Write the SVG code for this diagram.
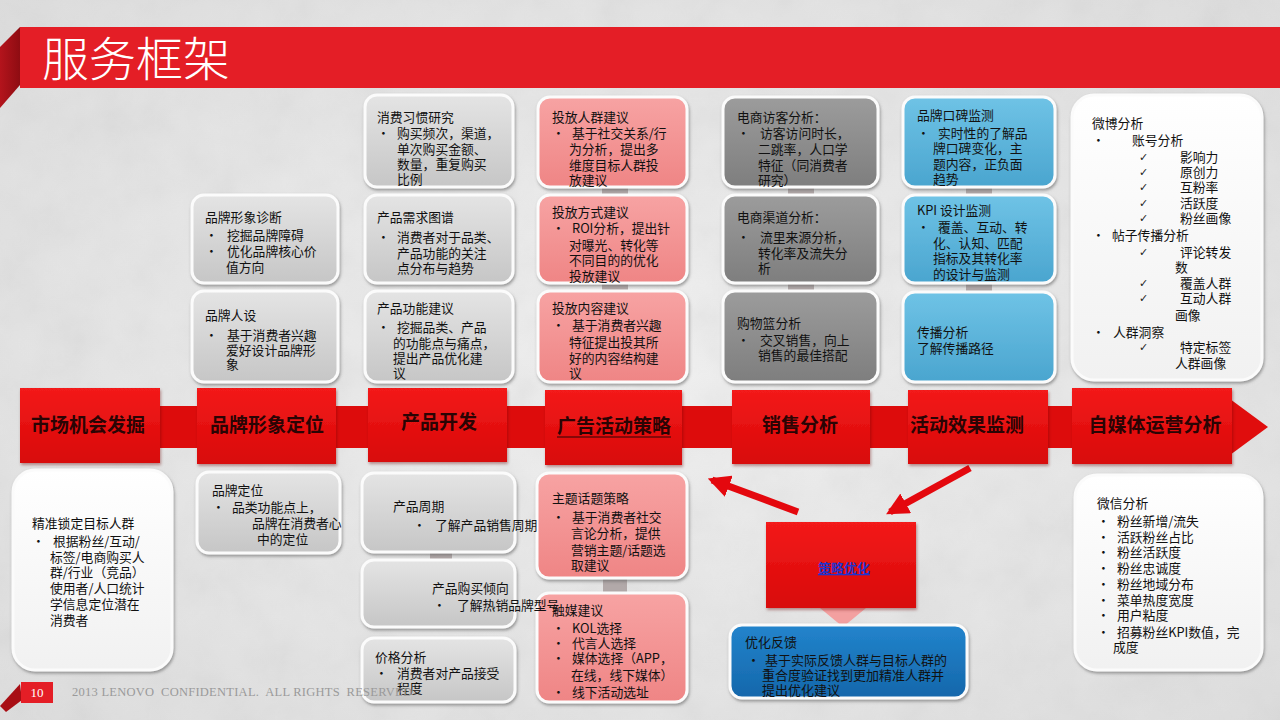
<svg xmlns="http://www.w3.org/2000/svg" width="1280" height="720" viewBox="0 0 1280 720">
<defs>
<style>
.t{font-family:"Noto Sans CJK SC","Noto Sans",sans-serif;font-size:12.8px;fill:#111}
.ck{font-family:"DejaVu Sans",sans-serif;font-size:11px;fill:#222}
.f{font-family:"Noto Sans CJK SC",sans-serif;font-weight:700;font-size:19px;fill:#2a0404;text-anchor:middle}
.box{stroke:#fbfbfb;stroke-width:3;filter:url(#sh)}
.g{fill:url(#gGray)}
.p{fill:url(#gPink)}
.d{fill:url(#gDark)}
.b{fill:url(#gBlue)}
.w{fill:url(#gWhite)}
.n{fill:url(#gNavy)}
.flow{fill:url(#gRed);filter:url(#sh2)}
.stub{fill:#a59a9a;opacity:.8}
</style>
<linearGradient id="gGray" x1="0" y1="0" x2="0" y2="1"><stop offset="0" stop-color="#e4e4e4"/><stop offset="1" stop-color="#c6c6c6"/></linearGradient>
<linearGradient id="gPink" x1="0" y1="0" x2="0" y2="1"><stop offset="0" stop-color="#f7a3a3"/><stop offset="1" stop-color="#ef8585"/></linearGradient>
<linearGradient id="gDark" x1="0" y1="0" x2="0" y2="1"><stop offset="0" stop-color="#9c9c9c"/><stop offset="1" stop-color="#7e7e7e"/></linearGradient>
<linearGradient id="gBlue" x1="0" y1="0" x2="0" y2="1"><stop offset="0" stop-color="#6fc3e6"/><stop offset="1" stop-color="#4aa5cf"/></linearGradient>
<linearGradient id="gWhite" x1="0" y1="0" x2="0" y2="1"><stop offset="0" stop-color="#ffffff"/><stop offset="1" stop-color="#f1f1f1"/></linearGradient>
<linearGradient id="gNavy" x1="0" y1="0" x2="0" y2="1"><stop offset="0" stop-color="#2284cc"/><stop offset="1" stop-color="#1567ab"/></linearGradient>
<linearGradient id="gRed" x1="0" y1="0" x2="0" y2="1"><stop offset="0" stop-color="#f31a1a"/><stop offset="1" stop-color="#d80808"/></linearGradient>
<linearGradient id="gFold" x1="0" y1="0" x2="1" y2="0"><stop offset="0" stop-color="#b4141c"/><stop offset="1" stop-color="#8e0c12"/></linearGradient>
<radialGradient id="bg" cx="0.5" cy="0.5" r="0.75"><stop offset="0" stop-color="#f0f0f0"/><stop offset="1" stop-color="#dcdcdc"/></radialGradient>
<filter id="sh" x="-10%" y="-10%" width="125%" height="125%"><feDropShadow dx="1" dy="2" stdDeviation="1.6" flood-color="#555" flood-opacity="0.55"/></filter>
<filter id="sh2" x="-10%" y="-10%" width="125%" height="125%"><feDropShadow dx="1" dy="2" stdDeviation="1.5" flood-color="#600" flood-opacity="0.4"/></filter>
<filter id="noise"><feTurbulence type="fractalNoise" baseFrequency="0.02" numOctaves="4" seed="7"/><feColorMatrix type="saturate" values="0"/></filter>
<marker id="ah" viewBox="0 0 10 10" refX="8" refY="5" markerWidth="3.2" markerHeight="3.2" orient="auto"><path d="M0,0 L10,5 L0,10 z" fill="#e4080e"/></marker>
</defs>

<rect width="1280" height="720" fill="url(#bg)"/>
<rect width="1280" height="720" filter="url(#noise)" opacity="0.12"/>

<g id="title">
<polygon points="0,47 20,27 20,85 0,108" fill="url(#gFold)"/>
<rect x="20" y="27" width="1260" height="61" fill="#e41e26"/>
<text x="42" y="76" style="font-family:'Noto Sans CJK SC',sans-serif;font-size:47px;font-weight:300;fill:#fff">服务框架</text>
</g>

<g id="page-number">
<polygon points="0,706 20,684 22,700 6,712" fill="#a80e14"/>
<rect x="21" y="682" width="32" height="21" fill="#e41e26"/>
<text x="37" y="697" text-anchor="middle" style="font-family:'Liberation Serif',serif;font-size:13px;fill:#fff">10</text>
</g>

<g id="connectors">
<rect x="158" y="406" width="1076" height="42" fill="#dd0c0c"/>
<polygon points="1230,399 1268,427 1230,455" fill="#e00d0d"/>
<line x1="798" y1="512" x2="712" y2="480" stroke="#e4080e" stroke-width="7" marker-end="url(#ah)"/>
<line x1="970" y1="468" x2="890" y2="512" stroke="#e4080e" stroke-width="7" marker-end="url(#ah)"/>
<polygon points="820,608 866,608 843,627" fill="#f3a0a0"/>
<rect class="stub" x="602" y="186" width="26" height="10"/>
<rect class="stub" x="602" y="282" width="26" height="10"/>
<rect class="stub" x="788" y="186" width="26" height="10"/>
<rect class="stub" x="788" y="282" width="26" height="10"/>
<rect class="stub" x="966" y="186" width="26" height="10"/>
<rect class="stub" x="966" y="282" width="26" height="10"/>
<rect class="stub" x="603" y="577" width="24" height="16"/>
<rect class="stub" x="430" y="551" width="22" height="10"/>
</g>

<g id="flow-market"><rect class="flow" x="20" y="388" width="140" height="75"/><text class="f" x="88" y="432">市场机会发掘</text></g>
<g id="flow-brand"><rect class="flow" x="197" y="388" width="139" height="76"/><text class="f" x="267" y="432">品牌形象定位</text></g>
<g id="flow-product"><rect class="flow" x="368" y="388" width="139" height="74"/><text class="f" x="439" y="429">产品开发</text></g>
<g id="flow-ad"><rect class="flow" x="545" y="390" width="137" height="75"/><text class="f" x="614" y="433">广告活动策略</text><line x1="557" y1="437" x2="671" y2="437" stroke="#2a0404" stroke-width="1"/></g>
<g id="flow-sales"><rect class="flow" x="732" y="390" width="138" height="74"/><text class="f" x="800" y="432">销售分析</text></g>
<g id="flow-monitor"><rect class="flow" x="908" y="390" width="140" height="74"/><text class="f" x="967" y="432">活动效果监测</text></g>
<g id="flow-media"><rect class="flow" x="1072" y="388" width="160" height="76"/><text class="f" x="1155" y="432">自媒体运营分析</text></g>

<g id="n-brand-diag"><rect class="box g" x="192" y="195" width="146" height="88" rx="12"/>
<text class="t"><tspan x="205" y="222">品牌形象诊断</tspan><tspan x="205" y="240">•</tspan><tspan x="227" y="240">挖掘品牌障碍</tspan><tspan x="205" y="256">•</tspan><tspan x="227" y="256">优化品牌核心价</tspan><tspan x="226" y="272">值方向</tspan></text></g>

<g id="n-brand-persona"><rect class="box g" x="192" y="291" width="146" height="91" rx="12"/>
<text class="t"><tspan x="205" y="320">品牌人设</tspan><tspan x="205" y="340">•</tspan><tspan x="227" y="340">基于消费者兴趣</tspan><tspan x="226" y="355">爱好设计品牌形</tspan><tspan x="226" y="369">象</tspan></text></g>

<g id="n-habit"><rect class="box g" x="365" y="95" width="148" height="92" rx="12"/>
<text class="t"><tspan x="377" y="122">消费习惯研究</tspan><tspan x="377" y="138">•</tspan><tspan x="397" y="138">购买频次，渠道，</tspan><tspan x="397" y="154">单次购买金额、</tspan><tspan x="397" y="169">数量，重复购买</tspan><tspan x="397" y="184">比例</tspan></text></g>

<g id="n-demand"><rect class="box g" x="365" y="195" width="148" height="88" rx="12"/>
<text class="t"><tspan x="377" y="222">产品需求图谱</tspan><tspan x="377" y="242">•</tspan><tspan x="397" y="242">消费者对于品类、</tspan><tspan x="397" y="258">产品功能的关注</tspan><tspan x="397" y="273">点分布与趋势</tspan></text></g>

<g id="n-function"><rect class="box g" x="365" y="291" width="148" height="91" rx="12"/>
<text class="t"><tspan x="377" y="313">产品功能建议</tspan><tspan x="377" y="332">•</tspan><tspan x="397" y="332">挖掘品类、产品</tspan><tspan x="393" y="348">的功能点与痛点，</tspan><tspan x="393" y="363">提出产品优化建</tspan><tspan x="393" y="378">议</tspan></text></g>

<g id="n-target"><rect class="box p" x="538" y="97" width="149" height="90" rx="12"/>
<text class="t"><tspan x="552" y="122">投放人群建议</tspan><tspan x="552" y="138">•</tspan><tspan x="572" y="138">基于社交关系/行</tspan><tspan x="569" y="154">为分析，提出多</tspan><tspan x="569" y="170">维度目标人群投</tspan><tspan x="569" y="185">放建议</tspan></text></g>

<g id="n-method"><rect class="box p" x="538" y="195" width="149" height="88" rx="12"/>
<text class="t"><tspan x="552" y="217">投放方式建议</tspan><tspan x="552" y="233">•</tspan><tspan x="572" y="233">ROI分析，提出针</tspan><tspan x="569" y="250">对曝光、转化等</tspan><tspan x="569" y="265">不同目的的优化</tspan><tspan x="569" y="281">投放建议</tspan></text></g>

<g id="n-content"><rect class="box p" x="538" y="291" width="149" height="91" rx="12"/>
<text class="t"><tspan x="552" y="313">投放内容建议</tspan><tspan x="552" y="330">•</tspan><tspan x="572" y="330">基于消费者兴趣</tspan><tspan x="569" y="347">特征提出投其所</tspan><tspan x="569" y="363">好的内容结构建</tspan><tspan x="569" y="378">议</tspan></text></g>

<g id="n-visitor"><rect class="box d" x="723" y="97" width="155" height="90" rx="12"/>
<text class="t"><tspan x="737" y="122">电商访客分析：</tspan><tspan x="737" y="138">•</tspan><tspan x="760" y="138">访客访问时长，</tspan><tspan x="758" y="154">二跳率，人口学</tspan><tspan x="758" y="170">特征（同消费者</tspan><tspan x="758" y="185">研究）</tspan></text></g>

<g id="n-channel"><rect class="box d" x="723" y="195" width="155" height="88" rx="12"/>
<text class="t"><tspan x="737" y="222">电商渠道分析：</tspan><tspan x="737" y="242">•</tspan><tspan x="760" y="242">流里来源分析，</tspan><tspan x="758" y="258">转化率及流失分</tspan><tspan x="758" y="273">析</tspan></text></g>

<g id="n-basket"><rect class="box d" x="723" y="291" width="155" height="91" rx="12"/>
<text class="t"><tspan x="737" y="328">购物篮分析</tspan><tspan x="737" y="345">•</tspan><tspan x="760" y="345">交叉销售，向上</tspan><tspan x="758" y="360">销售的最佳搭配</tspan></text></g>

<g id="n-wom"><rect class="box b" x="903" y="97" width="152" height="90" rx="12"/>
<text class="t"><tspan x="917" y="120">品牌口碑监测</tspan><tspan x="917" y="138">•</tspan><tspan x="938" y="138">实时性的了解品</tspan><tspan x="933" y="153">牌口碑变化，主</tspan><tspan x="933" y="169">题内容，正负面</tspan><tspan x="933" y="184">趋势</tspan></text></g>

<g id="n-kpi"><rect class="box b" x="903" y="195" width="152" height="88" rx="12"/>
<text class="t"><tspan x="917" y="215">KPI 设计监测</tspan><tspan x="917" y="232">•</tspan><tspan x="938" y="232">覆盖、互动、转</tspan><tspan x="933" y="248">化、认知、匹配</tspan><tspan x="933" y="263">指标及其转化率</tspan><tspan x="933" y="279">的设计与监测</tspan></text></g>

<g id="n-spread"><rect class="box b" x="903" y="292" width="152" height="90" rx="12"/>
<text class="t"><tspan x="917" y="337">传播分析</tspan><tspan x="917" y="353">了解传播路径</tspan></text></g>

<g id="n-weibo"><rect class="box w" x="1072" y="95" width="190" height="285" rx="22"/>
<text class="t"><tspan x="1092" y="128">微博分析</tspan><tspan x="1092" y="145">•</tspan><tspan x="1132" y="145">账号分析</tspan><tspan x="1180" y="162">影响力</tspan><tspan x="1180" y="177">原创力</tspan><tspan x="1180" y="192">互粉率</tspan><tspan x="1180" y="208">活跃度</tspan><tspan x="1180" y="223">粉丝画像</tspan><tspan x="1092" y="240">•</tspan><tspan x="1112" y="240">帖子传播分析</tspan><tspan x="1180" y="257">评论转发</tspan><tspan x="1175" y="272">数</tspan><tspan x="1180" y="288">覆盖人群</tspan><tspan x="1180" y="303">互动人群</tspan><tspan x="1175" y="320">画像</tspan><tspan x="1092" y="337">•</tspan><tspan x="1113" y="337">人群洞察</tspan><tspan x="1180" y="352">特定标签</tspan><tspan x="1175" y="368">人群画像</tspan></text>
<text class="ck"><tspan x="1139" y="161">✓</tspan><tspan x="1139" y="176">✓</tspan><tspan x="1139" y="191">✓</tspan><tspan x="1139" y="207">✓</tspan><tspan x="1139" y="222">✓</tspan><tspan x="1139" y="256">✓</tspan><tspan x="1139" y="287">✓</tspan><tspan x="1139" y="302">✓</tspan><tspan x="1139" y="351">✓</tspan></text></g>

<g id="n-precise"><rect class="box w" x="13" y="470" width="159" height="200" rx="22"/>
<text class="t"><tspan x="32" y="528">精准锁定目标人群</tspan><tspan x="32" y="546">•</tspan><tspan x="53" y="546">根据粉丝/互动/</tspan><tspan x="50" y="562">标签/电商购买人</tspan><tspan x="50" y="577">群/行业（竞品）</tspan><tspan x="50" y="593">使用者/人口统计</tspan><tspan x="50" y="609">学信息定位潜在</tspan><tspan x="50" y="625">消费者</tspan></text></g>

<g id="n-positioning"><rect class="box g" x="197" y="472" width="143" height="81" rx="12"/>
<text class="t"><tspan x="212" y="495">品牌定位</tspan><tspan x="212" y="512">•</tspan><tspan x="232" y="512">品类功能点上，</tspan><tspan x="252" y="528">品牌在消费者心</tspan><tspan x="257" y="544">中的定位</tspan></text></g>

<g id="n-topic"><rect class="box p" x="537" y="473" width="150" height="105" rx="12"/>
<text class="t"><tspan x="552" y="503">主题话题策略</tspan><tspan x="552" y="522">•</tspan><tspan x="572" y="522">基于消费者社交</tspan><tspan x="571" y="538">言论分析，提供</tspan><tspan x="571" y="555">营销主题/话题选</tspan><tspan x="571" y="570">取建议</tspan></text></g>

<g id="n-media"><rect class="box p" x="537" y="593" width="150" height="109" rx="12"/>
<text class="t"><tspan x="552" y="615">触媒建议</tspan><tspan x="552" y="633">•</tspan><tspan x="572" y="633">KOL选择</tspan><tspan x="552" y="648">•</tspan><tspan x="572" y="648">代言人选择</tspan><tspan x="552" y="663">•</tspan><tspan x="572" y="663">媒体选择（APP，</tspan><tspan x="571" y="680">在线，线下媒体）</tspan><tspan x="552" y="697">•</tspan><tspan x="572" y="697">线下活动选址</tspan></text></g>

<g id="n-cycle"><rect class="box g" x="362" y="473" width="153" height="79" rx="12"/>
<text class="t"><tspan x="393" y="511">产品周期</tspan><tspan x="413" y="530">•</tspan><tspan x="435" y="530">了解产品销售周期</tspan></text></g>

<g id="n-intent"><rect class="box g" x="362" y="560" width="153" height="67" rx="12"/>
<text class="t"><tspan x="432" y="593">产品购买倾向</tspan><tspan x="433" y="610">•</tspan><tspan x="457" y="610">了解热销品牌型号</tspan></text></g>

<g id="n-price"><rect class="box g" x="362" y="638" width="153" height="64" rx="12"/>
<text class="t"><tspan x="375" y="662">价格分析</tspan><tspan x="375" y="678">•</tspan><tspan x="397" y="678">消费者对产品接受</tspan><tspan x="397" y="693">程度</tspan></text></g>

<g id="n-optimize"><rect x="766" y="522" width="150" height="86" fill="url(#gRed)" filter="url(#sh2)"/>
<text x="844" y="573" text-anchor="middle" text-decoration="underline" style="font-family:'Noto Sans CJK SC',sans-serif;font-weight:700;font-size:13px;fill:#2233cc">策略优化</text></g>

<g id="n-feedback"><rect class="box n" x="730" y="625" width="237" height="73" rx="12"/>
<text class="t" style="font-size:13px"><tspan x="745" y="647">优化反馈</tspan><tspan x="747" y="665">•</tspan><tspan x="765" y="665">基于实际反馈人群与目标人群的</tspan><tspan x="762" y="680">重合度验证找到更加精准人群并</tspan><tspan x="762" y="695">提出优化建议</tspan></text></g>

<g id="n-wechat"><rect class="box w" x="1075" y="475" width="187" height="195" rx="22"/>
<text class="t"><tspan x="1097" y="508">微信分析</tspan><tspan x="1097" y="526">•</tspan><tspan x="1117" y="526">粉丝新增/流失</tspan><tspan x="1097" y="542">•</tspan><tspan x="1117" y="542">活跃粉丝占比</tspan><tspan x="1097" y="557">•</tspan><tspan x="1117" y="557">粉丝活跃度</tspan><tspan x="1097" y="573">•</tspan><tspan x="1117" y="573">粉丝忠诚度</tspan><tspan x="1097" y="589">•</tspan><tspan x="1117" y="589">粉丝地域分布</tspan><tspan x="1097" y="605">•</tspan><tspan x="1117" y="605">菜单热度宽度</tspan><tspan x="1097" y="620">•</tspan><tspan x="1117" y="620">用户粘度</tspan><tspan x="1097" y="637">•</tspan><tspan x="1117" y="637">招募粉丝KPI数值，完</tspan><tspan x="1113" y="652">成度</tspan></text></g>

<text id="footer" x="72" y="696" textLength="340" xml:space="preserve" style="font-family:'Liberation Serif',serif;font-size:12.5px;fill:#9a9a9a">2013 LENOVO  CONFIDENTIAL.  ALL RIGHTS  RESERVED</text>
</svg>
